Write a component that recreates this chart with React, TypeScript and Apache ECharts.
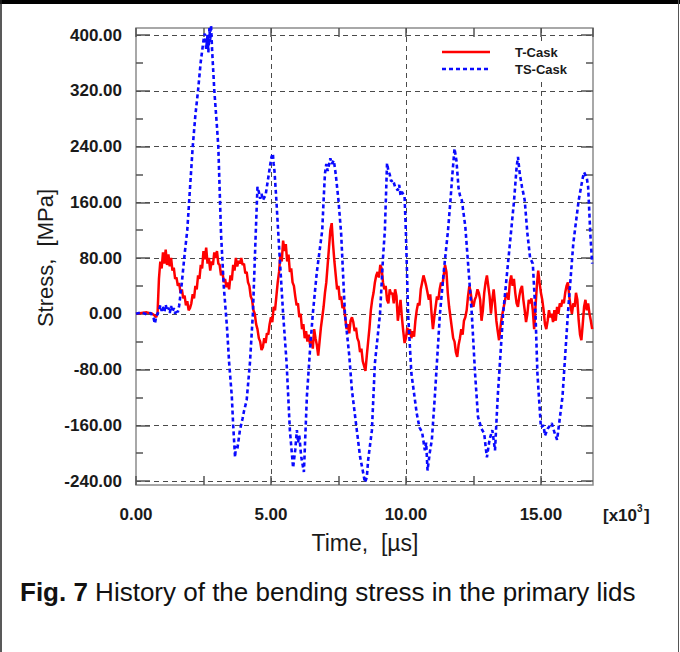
import React, { useEffect, useRef } from "react";
import * as echarts from "echarts";

// Time in [x10^3 µs], stress in MPa
const tCask: number[][] = [
  [0, 0], [0.2, 1], [0.4, 2], [0.6, 0], [0.7, -3], [0.75, -5], [0.8, 2],
  [0.85, 50], [0.9, 75], [0.95, 65], [1.0, 88], [1.05, 72], [1.1, 92], [1.15, 70], [1.2, 85], [1.25, 68],
  [1.3, 80], [1.35, 62], [1.4, 66], [1.45, 50], [1.5, 52], [1.55, 40], [1.6, 44], [1.65, 30], [1.7, 35],
  [1.75, 22], [1.8, 26], [1.85, 12], [1.9, 18], [1.95, 5], [2.0, 8], [2.05, 15], [2.1, 28], [2.15, 22],
  [2.2, 40], [2.25, 35], [2.3, 55], [2.35, 50], [2.4, 70], [2.45, 65], [2.5, 90], [2.55, 78], [2.6, 95],
  [2.65, 72], [2.7, 80], [2.75, 62], [2.8, 75], [2.85, 70], [2.9, 88], [2.95, 80], [3.0, 90], [3.05, 72],
  [3.1, 70], [3.15, 55], [3.2, 62], [3.25, 45], [3.3, 50], [3.35, 38], [3.4, 45], [3.45, 35], [3.5, 55],
  [3.55, 48], [3.6, 70], [3.65, 62], [3.7, 80], [3.75, 68], [3.8, 76], [3.85, 72], [3.9, 80], [3.95, 70],
  [4.0, 72], [4.05, 58], [4.1, 60], [4.15, 45], [4.2, 40], [4.25, 25], [4.3, 20], [4.35, 5], [4.4, 0],
  [4.45, -15], [4.5, -22], [4.55, -35], [4.6, -40], [4.65, -52], [4.7, -48], [4.75, -35], [4.8, -42],
  [4.85, -28], [4.9, -30], [4.95, -15], [5.0, -5], [5.05, -12], [5.1, 10], [5.15, 5], [5.2, 25], [5.25, 45],
  [5.3, 60], [5.35, 85], [5.4, 75], [5.45, 105], [5.5, 90], [5.55, 100], [5.6, 75], [5.65, 85], [5.7, 60],
  [5.75, 65], [5.8, 45], [5.85, 40], [5.9, 25], [5.95, 12], [6.0, 15], [6.05, -5], [6.1, 0], [6.15, -22],
  [6.2, -15], [6.25, -35], [6.3, -25], [6.35, -40], [6.4, -30], [6.45, -45], [6.5, -38], [6.55, -50],
  [6.6, -22], [6.65, -35], [6.7, -45], [6.75, -60], [6.8, -40], [6.85, -20], [6.9, -5], [6.95, 10],
  [7.0, 30], [7.05, 45], [7.1, 70], [7.15, 95], [7.2, 120], [7.25, 130], [7.3, 100], [7.35, 75], [7.4, 55],
  [7.45, 35], [7.5, 40], [7.55, 20], [7.6, 25], [7.65, 8], [7.7, 12], [7.75, -5], [7.8, -22], [7.85, -15],
  [7.9, -28], [7.95, -10], [8.0, -5], [8.05, -12], [8.1, -25], [8.15, -20], [8.2, -35], [8.25, -40],
  [8.3, -55], [8.35, -50], [8.4, -68], [8.45, -75], [8.5, -82], [8.55, -60], [8.6, -40], [8.65, -20],
  [8.7, 5], [8.75, 20], [8.8, 30], [8.85, 45], [8.9, 55], [8.95, 60], [9.0, 52], [9.05, 70], [9.1, 65],
  [9.15, 45], [9.2, 35], [9.25, 40], [9.3, 20], [9.35, 15], [9.4, 35], [9.45, 28], [9.5, 30], [9.55, 15],
  [9.6, 35], [9.65, 25], [9.7, -10], [9.75, 5], [9.8, 20], [9.85, -5], [9.9, -25], [9.95, -42], [10.0, -35],
  [10.05, -20], [10.1, -30], [10.15, -22], [10.2, -35], [10.25, -25], [10.3, -33], [10.35, -10], [10.4, 5],
  [10.45, 15], [10.5, 12], [10.55, 35], [10.6, 45], [10.65, 55], [10.7, 48], [10.75, 40], [10.8, 30],
  [10.85, 20], [10.9, 28], [10.95, 0], [11.0, -22], [11.05, -5], [11.1, 10], [11.15, 25], [11.2, 20],
  [11.25, 35], [11.3, 45], [11.35, 40], [11.4, 55], [11.45, 70], [11.5, 60], [11.55, 30], [11.6, 10],
  [11.65, -5], [11.7, -20], [11.75, -35], [11.8, -40], [11.85, -55], [11.9, -62], [11.95, -45], [12.0, -35],
  [12.05, -22], [12.1, -30], [12.15, -10], [12.2, -5], [12.25, 5], [12.3, 25], [12.35, 40], [12.4, 30],
  [12.45, 15], [12.5, 10], [12.55, 20], [12.6, 25], [12.65, 35], [12.7, 30], [12.75, 20], [12.8, -10],
  [12.85, 5], [12.9, 30], [12.95, 45], [13.0, 55], [13.05, 40], [13.1, 25], [13.15, 0], [13.2, 20],
  [13.25, 35], [13.3, 15], [13.35, -10], [13.4, -25], [13.45, -38], [13.5, -20], [13.55, -5], [13.6, 5],
  [13.65, 15], [13.7, 25], [13.75, 30], [13.8, 20], [13.85, 45], [13.9, 55], [13.95, 40], [14.0, 50],
  [14.05, 30], [14.1, 15], [14.15, 10], [14.2, 25], [14.25, 35], [14.3, 40], [14.35, 20], [14.4, 5],
  [14.45, -12], [14.5, 0], [14.55, 20], [14.6, 15], [14.65, 22], [14.7, 5], [14.75, -22], [14.8, 10],
  [14.85, 40], [14.9, 62], [14.95, 45], [15.0, 30], [15.05, 20], [15.1, 5], [15.15, -15], [15.2, -22],
  [15.25, -10], [15.3, 5], [15.35, -5], [15.4, 0], [15.45, -12], [15.5, 5], [15.55, -10], [15.6, 10],
  [15.65, 0], [15.7, 15], [15.75, 10], [15.8, 20], [15.85, 15], [15.9, 30], [15.95, 40], [16.0, 45],
  [16.05, 25], [16.1, 10], [16.15, 0], [16.2, 15], [16.25, 10], [16.3, 30], [16.35, 20], [16.4, -10],
  [16.45, -30], [16.5, -38], [16.55, -15], [16.6, 10], [16.65, 20], [16.7, 5], [16.75, 15], [16.8, 0],
  [16.85, -10], [16.9, -22],
];

const tsCask: number[][] = [
  [0, 0], [0.2, 2], [0.4, -1], [0.55, 1], [0.65, -6], [0.7, -14], [0.75, -4], [0.85, 4], [0.9, 12],
  [0.95, 4], [1.0, 10], [1.05, 2], [1.1, 13], [1.15, 5], [1.2, 9], [1.25, 1], [1.3, 11], [1.35, 3],
  [1.4, 8], [1.45, 0], [1.5, 6], [1.55, 2], [1.6, 12], [1.7, 45], [1.8, 85], [1.9, 120], [2.0, 180],
  [2.1, 239], [2.2, 285], [2.3, 321], [2.4, 362], [2.5, 392], [2.55, 402], [2.6, 380], [2.65, 400],
  [2.68, 375], [2.72, 410], [2.75, 390], [2.78, 414], [2.82, 378], [2.9, 321], [3.0, 268], [3.05, 239],
  [3.15, 115], [3.25, 40], [3.37, -19], [3.45, -70], [3.55, -119], [3.6, -160], [3.67, -206], [3.7, -190],
  [3.75, -195], [3.85, -167], [3.95, -150], [4.0, -140], [4.1, -124], [4.22, -71], [4.33, 0], [4.44, 120],
  [4.5, 182], [4.55, 175], [4.6, 165], [4.65, 172], [4.7, 163], [4.8, 170], [4.9, 195], [4.96, 211],
  [5.02, 225], [5.07, 230], [5.1, 215], [5.13, 205], [5.2, 163], [5.3, 96], [5.45, 0], [5.58, -71],
  [5.7, -167], [5.82, -221], [5.9, -195], [5.96, -167], [6.0, -185], [6.05, -175], [6.12, -205],
  [6.22, -227], [6.33, -119], [6.45, -50], [6.55, 0], [6.7, 60], [6.9, 120], [6.95, 163], [7.0, 201],
  [7.05, 215], [7.1, 205], [7.2, 223], [7.25, 215], [7.33, 220], [7.4, 200], [7.5, 163], [7.6, 115],
  [7.74, 0], [7.9, -60], [8.0, -110], [8.18, -167], [8.3, -205], [8.4, -225], [8.48, -242], [8.55, -235],
  [8.6, -210], [8.74, -167], [8.85, -71], [9.04, 0], [9.15, 80], [9.22, 120], [9.3, 216], [9.35, 205],
  [9.4, 200], [9.45, 190], [9.52, 192], [9.6, 182], [9.7, 177], [9.75, 185], [9.8, 170], [9.85, 175],
  [9.95, 168], [10.0, 115], [10.08, 0], [10.2, -85], [10.4, -143], [10.5, -163], [10.6, -170],
  [10.7, -196], [10.75, -185], [10.8, -225], [10.88, -200], [10.96, -181], [11.07, -119], [11.26, 0],
  [11.4, 60], [11.56, 120], [11.65, 163], [11.72, 200], [11.8, 237], [11.87, 220], [11.95, 180],
  [12.0, 170], [12.07, 163], [12.2, 125], [12.44, 0], [12.56, -85], [12.67, -148], [12.8, -165],
  [12.9, -172], [12.95, -190], [13.0, -206], [13.1, -180], [13.2, -167], [13.3, -196], [13.4, -119],
  [13.6, 0], [13.75, 60], [13.9, 120], [14.0, 160], [14.1, 210], [14.15, 225], [14.22, 200], [14.3, 182],
  [14.4, 163], [14.5, 115], [14.6, 80], [14.7, 72], [14.8, 0], [14.87, -85], [15.0, -163], [15.1, -160],
  [15.15, -175], [15.25, -165], [15.4, -157], [15.5, -170], [15.6, -181], [15.7, -150], [15.8, -119],
  [16.0, 0], [16.2, 101], [16.4, 163], [16.55, 195], [16.6, 203], [16.7, 195], [16.75, 182],
  [16.83, 115], [16.9, 72],
];

const seriesNames = ["T-Cask", "TS-Cask"];
const X_MIN = 0;
const X_MAX = 16.93;
const Y_MIN = -240;
const Y_MAX = 400;
const Y_STEP = 80;
const X_STEP = 5;
const X_MINOR_STEP = 2.5;

const FONT = "'Liberation Sans', Arial, Helvetica, sans-serif";

export default function App() {
  const ref = useRef<HTMLDivElement>(null);
  useEffect(() => {
    if (!ref.current) return;
    const chart = echarts.init(ref.current, null, { renderer: "svg" });
    const tickStyle = { color: "#555", width: 1.5 };
    const dashed = { type: [5, 4] as any, color: "#4a4a4a", width: 1 };
    const labelStyle = { fontSize: 17, fontWeight: "bold" as const, color: "#1a1a1a", fontFamily: FONT };
    const option: any = {
      animation: false,
      backgroundColor: "#ffffff",
      grid: [
        { left: 136, top: 35, width: 457, height: 446, show: false },
        { left: 136, top: 28, width: 457, height: 457, show: true, borderColor: "#8c8c8c", borderWidth: 1.5, backgroundColor: "transparent" },
        { left: 136, top: 28, width: 457, height: 457, show: false },
      ],
      xAxis: [
        { gridIndex: 0, type: "value", min: X_MIN, max: X_MAX, show: false },
        {
          gridIndex: 1, type: "value", min: X_MIN, max: X_MAX, interval: X_MINOR_STEP, position: "bottom",
          axisLine: { show: false },
          axisTick: { show: true, inside: true, length: 9, lineStyle: tickStyle },
          axisLabel: {
            ...labelStyle, margin: 21, showMaxLabel: false,
            formatter: (v: number) => (Math.abs(v % X_STEP) < 1e-9 ? v.toFixed(2) : ""),
          },
          splitLine: { show: false },
        },
        {
          gridIndex: 1, type: "value", min: X_MIN, max: X_MAX, interval: X_MINOR_STEP, position: "top",
          axisLine: { show: false },
          axisTick: { show: true, inside: true, length: 9, lineStyle: tickStyle },
          axisLabel: { show: false },
          splitLine: { show: false },
        },
        {
          gridIndex: 2, type: "value", min: X_MIN, max: X_MAX, interval: X_STEP, position: "bottom",
          axisLine: { show: false }, axisTick: { show: false }, axisLabel: { show: false },
          splitLine: { show: true, showMaxLine: false, showMinLine: false, lineStyle: dashed },
        },
      ],
      yAxis: [
        {
          gridIndex: 0, type: "value", min: Y_MIN, max: Y_MAX, interval: Y_STEP, position: "left",
          axisLine: { show: false },
          axisTick: { show: true, inside: true, length: 14, lineStyle: tickStyle },
          minorTick: { show: true, splitNumber: 2, length: 7, lineStyle: tickStyle },
          axisLabel: { ...labelStyle, margin: 14, formatter: (v: number) => v.toFixed(2) },
          splitLine: { show: true, lineStyle: dashed },
        },
        {
          gridIndex: 0, type: "value", min: Y_MIN, max: Y_MAX, interval: Y_STEP, position: "right",
          axisLine: { show: false },
          axisTick: { show: true, inside: true, length: 12, lineStyle: tickStyle },
          minorTick: { show: true, splitNumber: 2, length: 7, lineStyle: tickStyle },
          axisLabel: { show: false },
          splitLine: { show: false },
        },
        { gridIndex: 1, type: "value", min: 0, max: 1, show: false },
        { gridIndex: 2, type: "value", min: 0, max: 1, show: false },
      ],
      series: [
        {
          name: seriesNames[0], type: "line", xAxisIndex: 0, yAxisIndex: 0, data: tCask,
          showSymbol: false, clip: false, z: 3,
          lineStyle: { color: "#ff0000", width: 2.5 },
        },
        {
          name: seriesNames[1], type: "line", xAxisIndex: 0, yAxisIndex: 0, data: tsCask,
          showSymbol: false, clip: false, z: 4,
          lineStyle: { color: "#0a0aff", width: 2.6, type: [4, 3] },
        },
      ],
      graphic: [
        // outer figure frame
        { type: "rect", shape: { x: 0, y: 0, width: 680, height: 4 }, style: { fill: "#000" }, silent: true },
        { type: "line", shape: { x1: 1, y1: 0, x2: 1, y2: 652 }, style: { stroke: "#222", lineWidth: 1.5 }, silent: true },
        { type: "line", shape: { x1: 678.5, y1: 0, x2: 678.5, y2: 652 }, style: { stroke: "#555", lineWidth: 1 }, silent: true },
        // legend
        { type: "rect", shape: { x: 432, y: 41, width: 142, height: 40 }, style: { fill: "#ffffff" }, z: 9 },
        { type: "line", shape: { x1: 442, y1: 52, x2: 490, y2: 52 }, style: { stroke: "#ff0000", lineWidth: 2.4 }, z: 10 },
        { type: "text", x: 515, y: 52, style: { text: seriesNames[0], font: `bold 13px ${FONT}`, fill: "#1a1a1a", verticalAlign: "middle" }, z: 10 },
        { type: "line", shape: { x1: 442, y1: 69, x2: 490, y2: 69 }, style: { stroke: "#0a0aff", lineWidth: 2.6, lineDash: [4, 3] }, z: 10 },
        { type: "text", x: 515, y: 69, style: { text: seriesNames[1], font: `bold 13px ${FONT}`, fill: "#1a1a1a", verticalAlign: "middle" }, z: 10 },
        // x multiplier
        { type: "text", x: 603, y: 515, style: { text: "[x10", font: `bold 17px ${FONT}`, fill: "#1a1a1a", verticalAlign: "middle" } },
        { type: "text", x: 637, y: 508, style: { text: "3", font: `bold 10px ${FONT}`, fill: "#1a1a1a", verticalAlign: "middle" } },
        { type: "text", x: 644, y: 515, style: { text: "]", font: `bold 17px ${FONT}`, fill: "#1a1a1a", verticalAlign: "middle" } },
        // axis titles
        { type: "text", x: 365, y: 543, style: { text: "Time,  [µs]", font: `23px ${FONT}`, fill: "#1a1a1a", align: "center", verticalAlign: "middle" } },
        { type: "text", x: 45, y: 258, rotation: Math.PI / 2, style: { text: "Stress,  [MPa]", font: `22px ${FONT}`, fill: "#1a1a1a", align: "center", verticalAlign: "middle" } },
        // caption
        {
          type: "text", x: 20, y: 592,
          style: {
            text: "{b|Fig. 7} History of the bending stress in the primary lids",
            font: `26px ${FONT}`, fill: "#111", verticalAlign: "middle",
            rich: { b: { fontWeight: "bold", fontSize: 26, fontFamily: FONT, fill: "#111" } },
          },
        },
      ],
    };
    chart.setOption(option);
    return () => chart.dispose();
  }, []);
  return (
    <div style={{ position: "fixed", left: 0, top: 0, width: 680, height: 652, background: "#fff" }}>
      <div ref={ref} style={{ width: 680, height: 652 }} />
    </div>
  );
}
